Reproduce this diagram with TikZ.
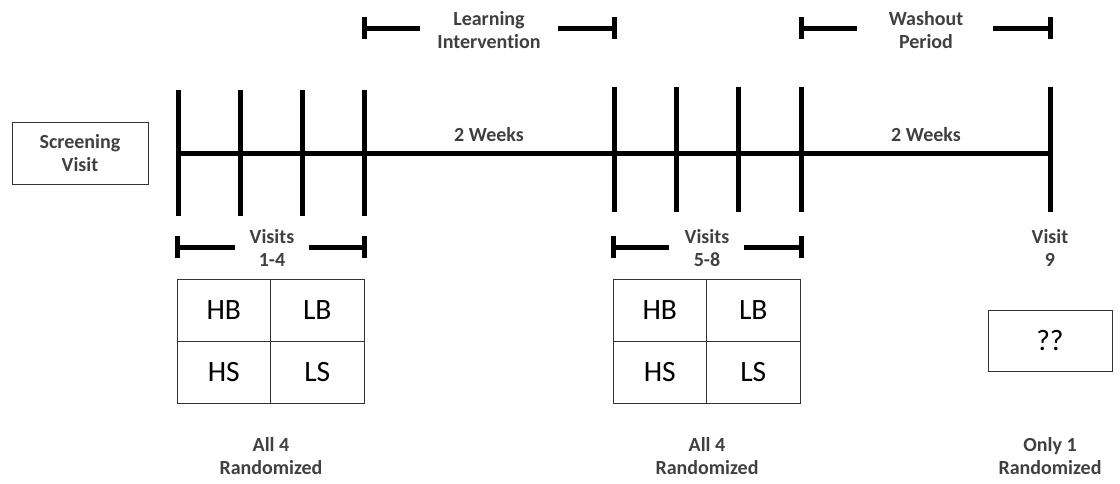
\documentclass[tikz,border=0pt]{standalone}
\usepackage{fontspec}
\setmainfont{Carlito}[Ligatures=NoCommon]
\definecolor{labelgray}{HTML}{404040}
\definecolor{boxline}{HTML}{333333}
\begin{document}
\begin{tikzpicture}[x=1pt,y=-1pt,
  bar/.style={line width=5pt, black},
  lbl/.style={font=\bfseries\fontsize{20}{23}\selectfont, text=labelgray, align=center, inner sep=0pt},
  cell/.style={draw=boxline, line width=1pt, minimum width=93.5pt, minimum height=62pt, inner sep=0pt, font=\fontsize{29.5}{34}\selectfont},
  framebox/.style={draw=boxline, line width=1pt, inner sep=0pt}]
\useasboundingbox (0,0) rectangle (1120,483);

% screening visit
\node[framebox, minimum width=136pt, minimum height=62pt, lbl] (scr) at (80,153) {Screening\\Visit};

% main timeline
\coordinate (t0) at (178,153);
\coordinate (tend) at (1050,153);
\draw[bar] (t0) -- (tend);

% ticks
\foreach \x/\n in {178/a1,240/a2,302/a3,364/a4} {
  \coordinate (\n top) at (\x,90);
  \coordinate (\n bot) at (\x,216);
  \draw[bar] (\n top) -- (\n bot);
}
\foreach \x/\n in {614/b1,676/b2,738/b3,801/b4,1050/c1} {
  \coordinate (\n top) at (\x,87);
  \coordinate (\n bot) at (\x,212);
  \draw[bar] (\n top) -- (\n bot);
}

% week labels
\node[lbl] (w1) at (489,135) {2 Weeks};
\node[lbl] (w2) at (926,135) {2 Weeks};

% top brackets
\node[lbl] (li) at (489,30) {Learning\\Intervention};
\coordinate (liL) at (364,28); \coordinate (liR) at (614,28);
\draw[bar] (liL) -- (420,28);
\draw[bar] (558,28) -- (liR);
\draw[bar] ([yshift=-11pt]liL) -- ([yshift=11pt]liL);
\draw[bar] ([yshift=-11pt]liR) -- ([yshift=11pt]liR);

\node[lbl] (wo) at (926,30) {Washout\\Period};
\coordinate (woL) at (801,28); \coordinate (woR) at (1050,28);
\draw[bar] (woL) -- (857,28);
\draw[bar] (993,28) -- (woR);
\draw[bar] ([yshift=-11pt]woL) -- ([yshift=11pt]woL);
\draw[bar] ([yshift=-11pt]woR) -- ([yshift=11pt]woR);

% bottom brackets
\node[lbl] (v14) at (272,248) {Visits\\1-4};
\coordinate (v14L) at (177,247); \coordinate (v14R) at (364,247);
\draw[bar] (v14L) -- (235,247);
\draw[bar] (309,247) -- (v14R);
\draw[bar] ([yshift=-11pt]v14L) -- ([yshift=11pt]v14L);
\draw[bar] ([yshift=-11pt]v14R) -- ([yshift=11pt]v14R);

\node[lbl] (v58) at (707,248) {Visits\\5-8};
\coordinate (v58L) at (613,247); \coordinate (v58R) at (801,247);
\draw[bar] (v58L) -- (669,247);
\draw[bar] (744,247) -- (v58R);
\draw[bar] ([yshift=-11pt]v58L) -- ([yshift=11pt]v58L);
\draw[bar] ([yshift=-11pt]v58R) -- ([yshift=11pt]v58R);

\node[lbl] (v9) at (1050,248) {Visit\\9};

% grids
\node[cell] (g1hb) at (223.75,310) {HB};
\node[cell] (g1lb) at (317.25,310) {LB};
\node[cell] (g1hs) at (223.75,372) {HS};
\node[cell] (g1ls) at (317.25,372) {LS};

\node[cell] (g2hb) at (659.75,310) {HB};
\node[cell] (g2lb) at (753.25,310) {LB};
\node[cell] (g2hs) at (659.75,372) {HS};
\node[cell] (g2ls) at (753.25,372) {LS};

\node[framebox, minimum width=124pt, minimum height=61pt, font=\fontsize{29.5}{34}\selectfont] (q) at (1050,340.5) {??};

% bottom labels
\node[lbl] (r1) at (271,456) {All 4\\Randomized};
\node[lbl] (r2) at (707,456) {All 4\\Randomized};
\node[lbl] (r3) at (1050,456) {Only 1\\Randomized};
\end{tikzpicture}
\end{document}
